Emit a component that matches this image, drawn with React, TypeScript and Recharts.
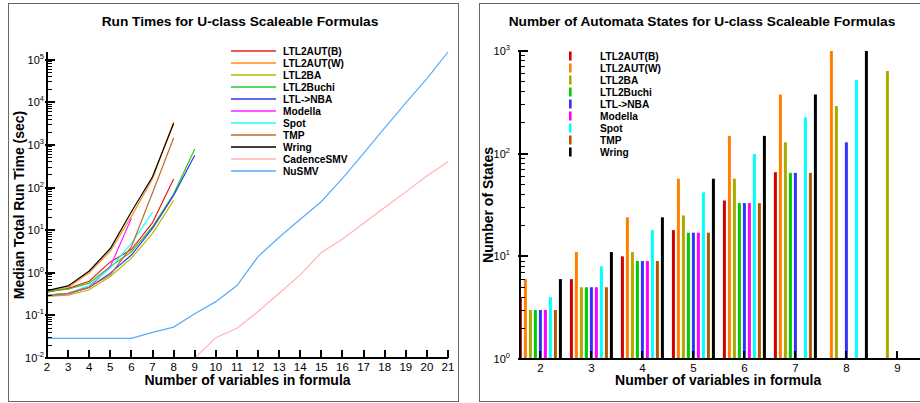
import React from 'react';
import { LineChart, Line, BarChart, Bar, XAxis, YAxis, Legend } from 'recharts';

// ---------- Left chart: run times ----------
const runX = [2, 3, 4, 5, 6, 7, 8, 9, 10, 11, 12, 13, 14, 15, 16, 17, 18, 19, 20, 21];
const translatorX = [2, 3, 4, 5, 6, 7, 8, 9];
const rtLTL2AUTB = [0.35, 0.43, 0.63, 1.8, 3.5, 15, 158, null];
const rtLTL2AUTW = [0.36, 0.45, 1.0, 3.2, 21, 160, 3500, null];
const rtLTL2BA = [0.28, 0.3, 0.4, 0.82, 2.2, 8.4, 50, null];
const rtLTL2Buchi = [0.37, 0.41, 0.57, 1.4, 3.1, 12, 70, 800];
const rtLTLNBA = [0.3, 0.33, 0.45, 0.98, 2.6, 11, 65, 570];
const rtModella = [0.29, 0.32, 0.45, 1.4, 19, null, null, null];
const rtSpot = [0.3, 0.33, 0.5, 1.3, 4.9, 26, null, null];
const rtTMP = [0.29, 0.33, 0.46, 0.89, 4.1, 75, 1450, null];
const rtWring = [0.38, 0.49, 1.1, 3.7, 27, 178, 3160, null];
const cadenceX = [9, 10, 11, 12, 13, 14, 15, 16, 17, 18, 19, 20, 21];
const rtCadenceSMV = [0.01, 0.03, 0.05, 0.123, 0.33, 0.89, 3.0, 6.2, 14.5, 34, 79, 187, 400];
const nusmvX = runX;
const rtNuSMV = [0.029, 0.029, 0.029, 0.029, 0.029, 0.04, 0.053, 0.109, 0.21, 0.5, 2.4, 6.8, 18, 47, 163, 630, 2500, 9660, 35900, 151000];

const runSeries = [
  { name: 'LTL2AUT(B)', xs: translatorX, vals: rtLTL2AUTB, color: '#ee1c1c' },
  { name: 'LTL2AUT(W)', xs: translatorX, vals: rtLTL2AUTW, color: '#ff8c1a' },
  { name: 'LTL2BA', xs: translatorX, vals: rtLTL2BA, color: '#b8b800' },
  { name: 'LTL2Buchi', xs: translatorX, vals: rtLTL2Buchi, color: '#22cc22' },
  { name: 'LTL->NBA', xs: translatorX, vals: rtLTLNBA, color: '#3333ee' },
  { name: 'Modella', xs: translatorX, vals: rtModella, color: '#ff22ff' },
  { name: 'Spot', xs: translatorX, vals: rtSpot, color: '#22ffff' },
  { name: 'TMP', xs: translatorX, vals: rtTMP, color: '#c06a28' },
  { name: 'Wring', xs: translatorX, vals: rtWring, color: '#000000' },
  { name: 'CadenceSMV', xs: cadenceX, vals: rtCadenceSMV, color: '#ffb3b3' },
  { name: 'NuSMV', xs: nusmvX, vals: rtNuSMV, color: '#5aaaff' },
];

const runData = runX.map((x) => {
  const row: any = { x };
  runSeries.forEach((s) => {
    const i = s.xs.indexOf(x);
    row[s.name] = i >= 0 ? s.vals[i] : null;
  });
  return row;
});

// ---------- Right chart: automata states ----------
const stateCats = [2, 3, 4, 5, 6, 7, 8, 9];
const stLTL2AUTB = [4, 6, 10, 18, 35, 66, null, null];
const stLTL2AUTW = [6, 11, 24, 57, 149, 378, 1000, null];
const stLTL2BA = [3, 5, 11, 25, 57, 129, 291, 638];
const stLTL2Buchi = [3, 5, 9, 17, 33, 65, null, null];
const stLTLNBA = [3, 5, 9, 17, 33, 65, 129, null];
const stModella = [3, 5, 9, 17, 33, null, null, null];
const stSpot = [4, 8, 18, 42, 99, 226, 521, null];
const stTMP = [3, 5, 9, 17, 33, 65, null, null];
const stWring = [6, 11, 24, 57, 149, 378, 1000, null];

const stateSeries = [
  { name: 'LTL2AUT(B)', vals: stLTL2AUTB, color: '#d00000' },
  { name: 'LTL2AUT(W)', vals: stLTL2AUTW, color: '#ff8000' },
  { name: 'LTL2BA', vals: stLTL2BA, color: '#aaaa00' },
  { name: 'LTL2Buchi', vals: stLTL2Buchi, color: '#00cc00' },
  { name: 'LTL->NBA', vals: stLTLNBA, color: '#3333ff' },
  { name: 'Modella', vals: stModella, color: '#ff00ff' },
  { name: 'Spot', vals: stSpot, color: '#00ffff' },
  { name: 'TMP', vals: stTMP, color: '#b05800' },
  { name: 'Wring', vals: stWring, color: '#000000' },
];

const stateData = stateCats.map((c, i) => {
  const row: any = { x: c };
  stateSeries.forEach((s) => {
    row[s.name] = s.vals[i];
  });
  return row;
});

// ---------- ticks (decades; minor ticks drawn per decade) ----------
const runYDomain = [0.01, 151000];
const stateYDomain = [1, 1000];
const runYTicks = [0.01, 0.1, 1, 10, 100, 1000, 10000, 100000];
const stateYTicks = [1, 10, 100, 1000];
const minorMultipliers = [2, 3, 4, 5, 6, 7, 8, 9];

const FONT = '"Liberation Sans", Arial, Helvetica, sans-serif';

const LEFT_TOP = 52;
const LEFT_AXIS_X = 47;
const LEFT_AXIS_Y = 358;
const RIGHT_TOP = 51;
const RIGHT_AXIS_X = 60; // relative to right chart
const RIGHT_AXIS_Y = 359;

const LogYTick = (props: any) => {
  const { y, payload, axisX, labelEnd, pxPerDecade, maxVal } = props;
  const v = payload.value;
  const exp = Math.round(Math.log10(v));
  return (
    <g>
      <line
        x1={axisX - 2}
        x2={axisX + 8}
        y1={y}
        y2={y}
        stroke="#000"
        strokeWidth={2}
        shapeRendering="crispEdges"
      />
      {minorMultipliers
        .filter((m) => m * v <= maxVal * 1.0001)
        .map((m) => {
          const yy = y - Math.log10(m) * pxPerDecade;
          return (
            <line
              key={m}
              x1={axisX}
              x2={axisX + 5}
              y1={yy}
              y2={yy}
              stroke="#000"
              strokeWidth={1}
              shapeRendering="crispEdges"
            />
          );
        })}
      <text x={labelEnd} y={y} dy={4} textAnchor="end" fontSize={11} fill="#000" fontFamily={FONT}>
        10<tspan dy={-5} fontSize={7.5}>{String(exp)}</tspan>
      </text>
    </g>
  );
};

const XTick = (props: any) => {
  const { x, axisY, payload } = props;
  return (
    <g>
      <line
        x1={x}
        x2={x}
        y1={axisY}
        y2={axisY - 8}
        stroke="#000"
        strokeWidth={2}
        shapeRendering="crispEdges"
      />
      <text x={x} y={axisY + 12.5} textAnchor="middle" fontSize={11.5} fill="#000" fontFamily={FONT}>
        {payload.value}
      </text>
    </g>
  );
};

const LineLegend = () => (
  <svg width={150} height={140} style={{ display: 'block' }}>
    {runSeries.map((s, i) => (
      <g key={s.name}>
        <line x1={6} x2={51} y1={11 + 12 * i} y2={11 + 12 * i} stroke={s.color} strokeWidth={1.3} />
        <text x={58} y={11 + 12 * i + 3.6} fontSize={10.2} fontWeight="bold" fill="#000" fontFamily={FONT}>
          {s.name}
        </text>
      </g>
    ))}
  </svg>
);

const BarLegend = () => (
  <svg width={120} height={120} style={{ display: 'block' }}>
    {stateSeries.map((s, i) => (
      <g key={s.name}>
        <rect x={9} y={16 + 12 * i - 4.5} width={2.6} height={9} fill={s.color} />
        <text x={40} y={16 + 12 * i + 3.6} fontSize={10.2} fontWeight="bold" fill="#000" fontFamily={FONT}>
          {s.name}
        </text>
      </g>
    ))}
  </svg>
);

const leftPxPerDecade = (LEFT_AXIS_Y - LEFT_TOP) / Math.log10(runYDomain[1] / runYDomain[0]);
const rightPxPerDecade = (RIGHT_AXIS_Y - RIGHT_TOP) / Math.log10(stateYDomain[1] / stateYDomain[0]);

const axisLineStyle = { stroke: '#000', strokeWidth: 2, shapeRendering: 'crispEdges' };

export default function App() {
  return (
    <div
      style={{
        position: 'absolute',
        left: 0,
        top: 0,
        width: 920,
        height: 403,
        overflow: 'hidden',
        background: '#fff',
        fontFamily: FONT,
      }}
    >
      <div style={{ position: 'absolute', left: 8, top: 3, width: 449, height: 397, border: '1px solid #666' }} />
      <div style={{ position: 'absolute', left: 479, top: 3, width: 460, height: 397, border: '1px solid #666' }} />

      <div style={{ position: 'absolute', left: 0, top: 0 }}>
        <LineChart
          width={460}
          height={403}
          data={runData}
          margin={{ top: LEFT_TOP, left: LEFT_AXIS_X - 1, right: 12, bottom: 403 - LEFT_AXIS_Y - 1 }}
        >
          <XAxis
            dataKey="x"
            type="number"
            domain={[2, 21]}
            ticks={runX}
            interval={0}
            height={1}
            axisLine={axisLineStyle}
            tickLine={false}
            tick={(p: any) => <XTick {...p} axisY={LEFT_AXIS_Y} />}
          />
          <YAxis
            type="number"
            scale="log"
            domain={runYDomain}
            allowDataOverflow
            ticks={runYTicks}
            interval={0}
            width={1}
            axisLine={axisLineStyle}
            tickLine={false}
            tick={(p: any) => (
              <LogYTick {...p} axisX={LEFT_AXIS_X} labelEnd={44} pxPerDecade={leftPxPerDecade} maxVal={runYDomain[1]} />
            )}
          />
          <Legend
            layout="vertical"
            align="center"
            verticalAlign="middle"
            content={() => <LineLegend />}
            wrapperStyle={{ position: 'absolute', left: 225, top: 40, width: 150 }}
          />
          {runSeries.map((s) => (
            <Line
              key={s.name}
              dataKey={s.name}
              type="linear"
              stroke={s.color}
              strokeWidth={1.2}
              dot={false}
              isAnimationActive={false}
              connectNulls={false}
            />
          ))}
          <text x={240} y={26} textAnchor="middle" fontSize={13.7} fontWeight="bold" fill="#000" fontFamily={FONT}>
            Run Times for U-class Scaleable Formulas
          </text>
          <text x={247.5} y={385} textAnchor="middle" fontSize={14} fontWeight="bold" fill="#000" fontFamily={FONT}>
            Number of variables in formula
          </text>
          <text
            transform="translate(18.5,205) rotate(-90)"
            textAnchor="middle"
            dominantBaseline="central"
            fontSize={14}
            fontWeight="bold"
            fill="#000"
            fontFamily={FONT}
          >
            Median Total Run Time (sec)
          </text>
        </LineChart>
      </div>

      <div style={{ position: 'absolute', left: 460, top: 0 }}>
        <BarChart
          width={470}
          height={403}
          data={stateData}
          barSize={3}
          barGap={2}
          margin={{ top: RIGHT_TOP, left: RIGHT_AXIS_X - 1, right: 2, bottom: 403 - RIGHT_AXIS_Y - 1 }}
        >
          <XAxis
            dataKey="x"
            type="number"
            domain={[1.6, 9.6]}
            allowDataOverflow
            ticks={stateCats}
            interval={0}
            height={1}
            axisLine={axisLineStyle}
            tickLine={false}
            tick={(p: any) => <XTick {...p} axisY={RIGHT_AXIS_Y} />}
          />
          <YAxis
            type="number"
            scale="log"
            domain={stateYDomain}
            allowDataOverflow
            ticks={stateYTicks}
            interval={0}
            width={1}
            axisLine={axisLineStyle}
            tickLine={false}
            tick={(p: any) => (
              <LogYTick {...p} axisX={RIGHT_AXIS_X} labelEnd={50} pxPerDecade={rightPxPerDecade} maxVal={stateYDomain[1]} />
            )}
          />
          <Legend
            layout="vertical"
            align="center"
            verticalAlign="middle"
            content={() => <BarLegend />}
            wrapperStyle={{ position: 'absolute', left: 100, top: 40, width: 120 }}
          />
          {stateSeries.map((s) => (
            <Bar key={s.name} dataKey={s.name} fill={s.color} isAnimationActive={false} />
          ))}
          <text x={242} y={26} textAnchor="middle" fontSize={13.7} fontWeight="bold" fill="#000" fontFamily={FONT}>
            Number of Automata States for U-class Scaleable Formulas
          </text>
          <text x={258.2} y={385} textAnchor="middle" fontSize={14} fontWeight="bold" fill="#000" fontFamily={FONT}>
            Number of variables in formula
          </text>
          <text
            transform="translate(28.3,205) rotate(-90)"
            textAnchor="middle"
            dominantBaseline="central"
            fontSize={14}
            fontWeight="bold"
            fill="#000"
            fontFamily={FONT}
          >
            Number of States
          </text>
        </BarChart>
      </div>
    </div>
  );
}
